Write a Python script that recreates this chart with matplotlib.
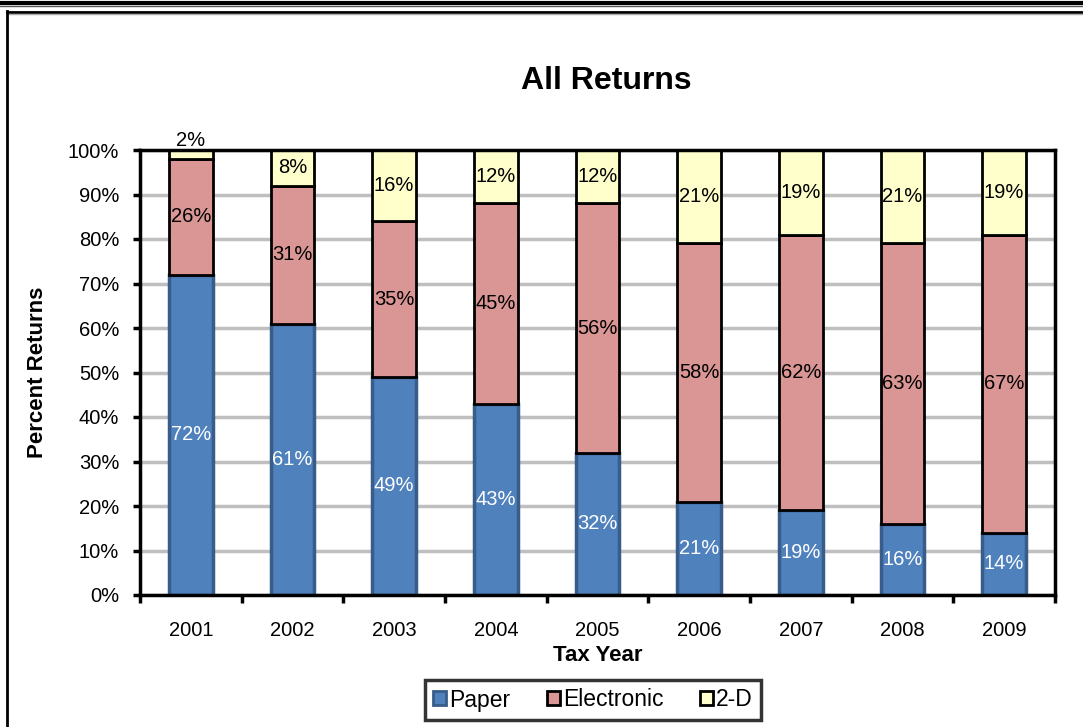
import numpy as np
import matplotlib.pyplot as plt
from matplotlib.lines import Line2D
from matplotlib.patches import Rectangle

plt.rcParams['font.family'] = ['Liberation Sans', 'DejaVu Sans']

years = ['2001', '2002', '2003', '2004', '2005', '2006', '2007', '2008', '2009']
paper = [72, 61, 49, 43, 32, 21, 19, 16, 14]
electronic = [26, 31, 35, 45, 56, 58, 62, 63, 67]
twod = [2, 8, 16, 12, 12, 21, 19, 21, 19]

c_paper = '#4F81BD'
c_paper_edge = '#385D8A'
c_elec = '#D99694'
c_twod = '#FFFFCC'

fig = plt.figure(figsize=(10.83, 7.27), dpi=100)
ax = fig.add_axes([140 / 1083, 132 / 727, 915 / 1083, 445 / 727])

x = np.arange(len(years))
w = 0.43
p = np.array(paper)
e = np.array(electronic)
t = np.array(twod)

ax.bar(x, p, w, color=c_paper, edgecolor=c_paper_edge, linewidth=2.5, zorder=3)
ax.bar(x, e, w, bottom=p, color=c_elec, edgecolor='black', linewidth=2, zorder=3)
ax.bar(x, t, w, bottom=p + e, color=c_twod, edgecolor='black', linewidth=2, zorder=3)

lab = 14.5
for i in range(len(years)):
    ax.text(x[i], p[i] / 2, '%d%%' % p[i], ha='center', va='center',
            color='white', fontsize=lab, zorder=4)
    ax.text(x[i], p[i] + e[i] / 2, '%d%%' % e[i], ha='center', va='center',
            color='black', fontsize=lab, zorder=4)
    if t[i] < 5:
        ax.text(x[i], 100.0, '%d%%' % t[i], ha='center', va='bottom',
                color='black', fontsize=lab, zorder=4)
    else:
        ax.text(x[i], p[i] + e[i] + t[i] / 2, '%d%%' % t[i], ha='center',
                va='center', color='black', fontsize=lab, zorder=4)

ax.set_xlim(-0.5, len(years) - 0.5)
ax.set_ylim(0, 100)
ax.set_yticks(np.arange(0, 101, 10))
ax.set_yticklabels(['%d%%' % v for v in range(0, 101, 10)], fontsize=14.5)
ax.set_xticks(x)
ax.set_xticklabels(years, fontsize=14.5)
ax.set_xticks(np.arange(-0.5, len(years), 1), minor=True)
ax.tick_params(axis='x', which='major', length=0, pad=19)
ax.tick_params(axis='x', which='minor', length=6, width=2.5, direction='out')
ax.tick_params(axis='y', length=5, width=2.5, direction='out', pad=10)
ax.yaxis.grid(True, color='#BFBFBF', linewidth=2.5, zorder=0)
ax.set_axisbelow(True)
for s in ax.spines.values():
    s.set_linewidth(2.5)
    s.set_zorder(5)

ax.set_title('All Returns', fontsize=23, fontweight='bold', pad=44, x=0.51)
ax.set_ylabel('Percent Returns', fontsize=16, fontweight='bold', labelpad=14)
ax.set_xlabel('Tax Year', fontsize=16, fontweight='bold', labelpad=3)

handles = [Rectangle((0, 0), 1, 1, facecolor=c_paper, edgecolor=c_paper_edge, linewidth=2),
           Rectangle((0, 0), 1, 1, facecolor=c_elec, edgecolor='black', linewidth=2),
           Rectangle((0, 0), 1, 1, facecolor=c_twod, edgecolor='black', linewidth=2)]
leg = fig.legend(handles, ['Paper', 'Electronic', '2-D'], loc='center',
                 bbox_to_anchor=(593 / 1083, 1 - 700 / 727), ncol=3,
                 fontsize=16.5, frameon=True, fancybox=False, handlelength=0.55,
                 handleheight=0.55, handletextpad=0.15, columnspacing=1.6,
                 borderpad=0.35, borderaxespad=0)
leg.get_frame().set_edgecolor('black')
leg.get_frame().set_linewidth(2.5)

# page frame lines
fig.add_artist(Line2D([0, 1], [1 - 3 / 727, 1 - 3 / 727], color='black', linewidth=3))
fig.add_artist(Line2D([0, 1], [1 - 6 / 727, 1 - 6 / 727], color='#555555', linewidth=1))
fig.add_artist(Line2D([7 / 1083, 1], [1 - 11.5 / 727, 1 - 11.5 / 727], color='black', linewidth=2))
fig.add_artist(Line2D([7 / 1083, 1], [1 - 13.5 / 727, 1 - 13.5 / 727], color='#AAAAAA', linewidth=1))
fig.add_artist(Line2D([7 / 1083, 7 / 1083], [0, 1 - 11 / 727], color='black', linewidth=2))

fig.savefig('out.png', dpi=100)
